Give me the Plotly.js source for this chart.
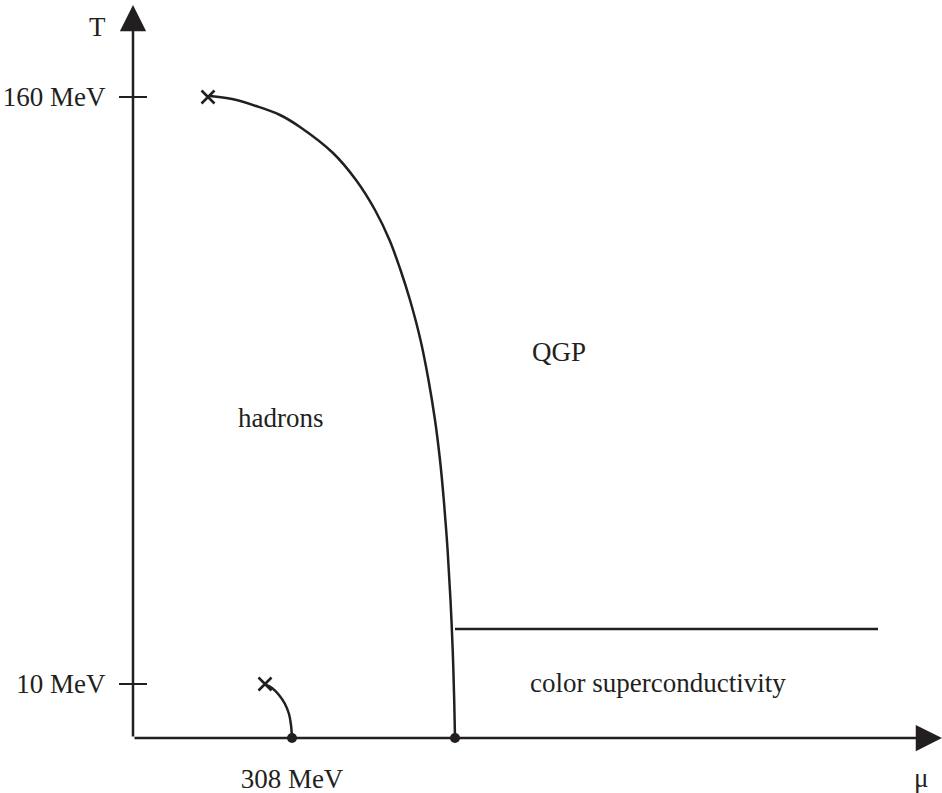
<!DOCTYPE html>
<html>
<head>
<meta charset="utf-8">
<script src="https://cdn.plot.ly/plotly-3.0.1.min.js"></script>
<style>html,body{margin:0;padding:0;background:#fff;}#chart{width:942px;height:793px;}</style>
</head>
<body>
<div id="chart"></div>
<script>
// Schematic coordinates (arbitrary units)
const boundaryX = [77, 99, 123, 147, 167, 200, 223, 242, 256.5, 267.5, 277, 287.5, 295.5, 302, 307, 310.8, 314.6, 317.5, 319.7, 321.2, 322];
const boundaryY = [642, 639, 632, 623, 611, 585, 558, 528, 498, 468, 438, 398, 358, 318, 278, 238, 188, 138, 88, 38, 0];
const nuclearX = [133, 139, 146, 152, 156, 158, 159];
const nuclearY = [53, 50, 43, 34, 24, 13, 0];
const cscX = [322, 745];
const cscY = [109, 109];
const endX = [75, 132];
const endY = [641, 54];
const dotX = [159, 322];
const dotY = [0, 0];
const yTickVals = [54, 641];
const yTickText = ['10 MeV', '160 MeV'];
const xTickVals = [159];
const xTickText = ['308 MeV'];
const regionText = ['hadrons', 'QGP', 'color superconductivity'];
const regionX = [147, 426, 525];
const regionY = [320, 386, 55];
const xAxisEnd = 809;
const yAxisEnd = 733;

const ink = '#231f20';
const fontFam = '"Liberation Serif", "DejaVu Serif", serif';
const fs = 27;
const lw = 2.5;

const traces = [
  {x: boundaryX, y: boundaryY, mode: 'lines', line: {color: ink, width: lw, shape: 'spline', smoothing: 1}, hoverinfo: 'skip', cliponaxis: false},
  {x: nuclearX, y: nuclearY, mode: 'lines', line: {color: ink, width: lw, shape: 'spline', smoothing: 1}, hoverinfo: 'skip', cliponaxis: false},
  {x: cscX, y: cscY, mode: 'lines', line: {color: ink, width: lw}, hoverinfo: 'skip', cliponaxis: false},
  {x: endX, y: endY, mode: 'markers', marker: {symbol: 'x-thin', size: 13, line: {color: ink, width: 2.6}}, hoverinfo: 'skip', cliponaxis: false},
  {x: dotX, y: dotY, mode: 'markers', marker: {symbol: 'circle', size: 10, color: ink}, hoverinfo: 'skip', cliponaxis: false}
];

const annotations = [
  {x: xAxisEnd, y: 0, ax: 0, ay: 0, xref: 'x', yref: 'y', axref: 'x', ayref: 'y', text: '', showarrow: true, arrowhead: 2, arrowsize: 2.1, arrowwidth: lw, arrowcolor: ink, standoff: 0, startstandoff: 0},
  {x: 0, y: yAxisEnd, ax: 0, ay: 0, xref: 'x', yref: 'y', axref: 'x', ayref: 'y', text: '', showarrow: true, arrowhead: 2, arrowsize: 2.1, arrowwidth: lw, arrowcolor: ink, standoff: 0, startstandoff: 0},
  {x: -0.0433, y: 0.964, xref: 'paper', yref: 'paper', xanchor: 'center', yanchor: 'middle', text: 'T', showarrow: false, font: {family: fontFam, size: fs, color: ink}},
  {x: 0.974, y: -0.054, xref: 'paper', yref: 'paper', xanchor: 'center', yanchor: 'middle', text: 'μ', showarrow: false, font: {family: fontFam, size: fs, color: ink}}
];
for (let i = 0; i < regionText.length; i++) {
  annotations.push({x: regionX[i], y: regionY[i], xref: 'x', yref: 'y', text: regionText[i], showarrow: false, font: {family: fontFam, size: fs, color: ink}});
}

const layout = {
  width: 942, height: 793,
  margin: {l: 133, r: 0, t: 0, b: 55},
  paper_bgcolor: '#fff', plot_bgcolor: '#fff',
  showlegend: false,
  xaxis: {range: [0, 809], showgrid: false, zeroline: false, showline: false, automargin: false,
    tickmode: 'array', tickvals: xTickVals, ticktext: xTickText, ticks: '',
    ticklabelstandoff: 22, tickfont: {family: fontFam, size: fs, color: ink}, fixedrange: true},
  yaxis: {range: [0, 738], showgrid: false, zeroline: false, showline: false, automargin: false,
    tickmode: 'array', tickvals: yTickVals, ticktext: yTickText, ticks: 'outside', ticklen: 13, tickwidth: lw, tickcolor: ink,
    ticklabelstandoff: 8, tickfont: {family: fontFam, size: fs, color: ink}, fixedrange: true},
  yaxis2: {range: [0, 738], overlaying: 'y', side: 'left', showgrid: false, zeroline: false, showline: false, automargin: false,
    tickmode: 'array', tickvals: yTickVals, ticks: 'inside', ticklen: 14, tickwidth: lw, tickcolor: ink,
    showticklabels: false, fixedrange: true},
  annotations: annotations
};
traces.push({x: [0], y: [0], yaxis: 'y2', mode: 'markers', marker: {size: 0, opacity: 0}, hoverinfo: 'skip'});

Plotly.newPlot('chart', traces, layout, {staticPlot: true});
</script>
</body>
</html>
